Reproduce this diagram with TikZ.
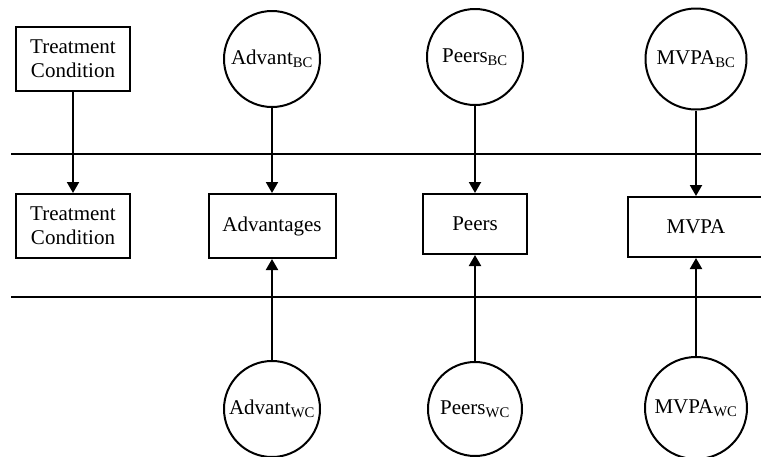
\documentclass[tikz,border=0pt]{standalone}
\usepackage{fontspec}
\setmainfont{Liberation Serif}
\usetikzlibrary{arrows.meta}
\begin{document}
\begin{tikzpicture}[x=1pt,y=-1pt,line width=2pt,
    txt/.style={font=\fontsize{21}{24}\selectfont,align=center,inner sep=0pt},
    obs/.style={txt,draw,rectangle,minimum height=64pt},
    lat/.style={txt,draw,circle,minimum size=96pt},
    arr/.style={-{Triangle[length=11pt,width=12pt]}}]
    \useasboundingbox (0,0) rectangle (761,456);
    \clip (0,0) rectangle (761,456);
    % between-cluster level
    \node[obs,minimum width=114pt] (tcb) at (73,59) {Treatment\\Condition};
    \node[lat] (advbc) at (272,59) {Advant\textsubscript{BC}};
    \node[lat] (peerbc) at (475,57) {Peers\textsubscript{BC}};
    \node[lat,minimum size=101pt] (mvpabc) at (696,59) {MVPA\textsubscript{BC}};
    \draw (11,153.5) -- (770,153.5);
    % observed
    \node[obs,minimum width=114pt] (tcw) at (73,226) {Treatment\\Condition};
    \node[obs,minimum width=127pt] (adv) at (272,226) {Advantages};
    \node[obs,minimum width=104pt,minimum height=60pt] (peer) at (475,224) {Peers};
    \node[obs,minimum width=136pt,minimum height=60pt] (mvpa) at (696,227) {MVPA};
    \draw (11,297) -- (770,297);
    % within-cluster level
    \node[lat] (advwc) at (272,409) {Advant\textsubscript{WC}};
    \node[lat,minimum size=94pt] (peerwc) at (475,409) {Peers\textsubscript{WC}};
    \node[lat,minimum size=102pt] (mvpawc) at (696,408) {MVPA\textsubscript{WC}};
    \draw[arr] (tcb) -- (tcw);
    \draw[arr] (advbc) -- (adv);
    \draw[arr] (peerbc) -- (peer);
    \draw[arr] (mvpabc) -- (mvpa);
    \draw[arr] (advwc) -- (adv);
    \draw[arr] (peerwc) -- (peer);
    \draw[arr] (mvpawc) -- (mvpa);
\end{tikzpicture}
\end{document}
